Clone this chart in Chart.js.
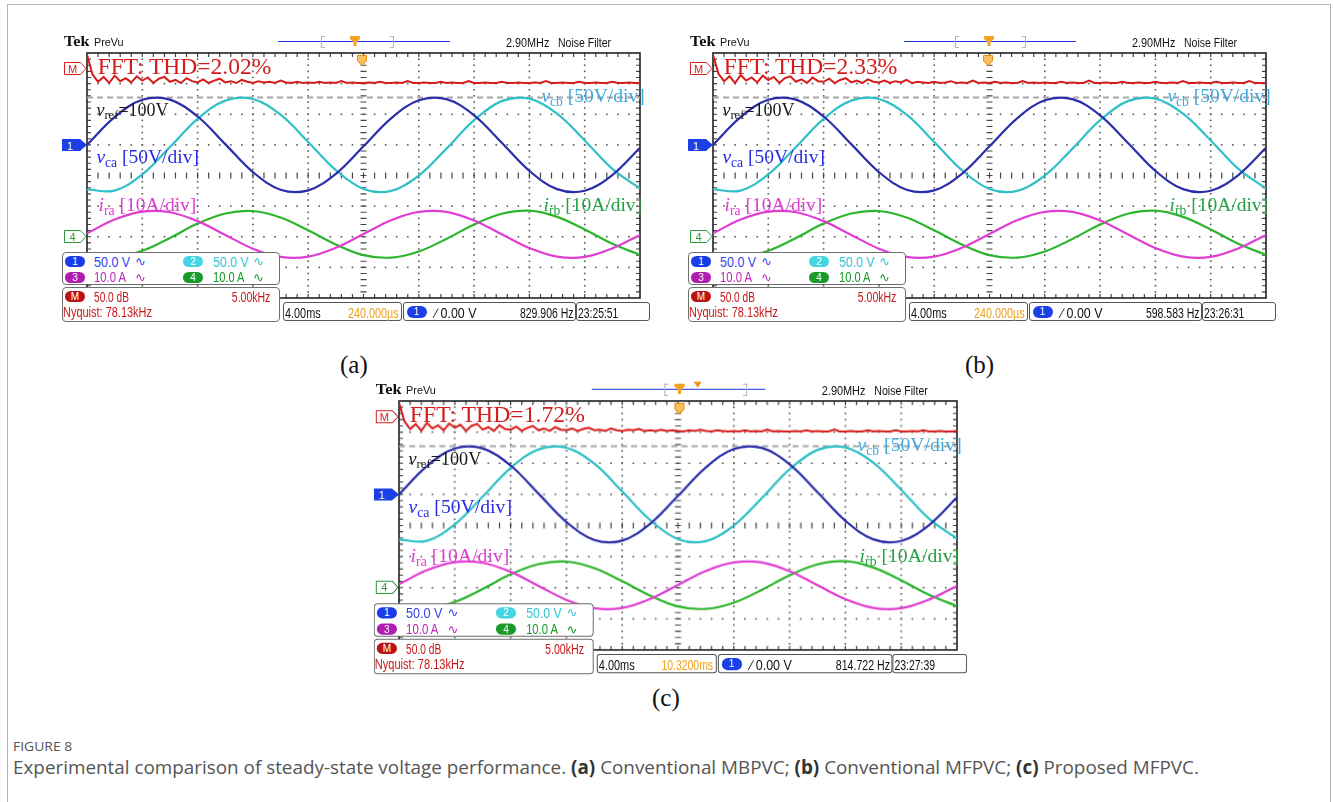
<!DOCTYPE html>
<html>
<head>
<meta charset="utf-8">
<title>Figure 8</title>
<script src="https://cdn.jsdelivr.net/npm/chart.js@4.4.1/dist/chart.umd.min.js"></script>
<style>
  html, body { margin: 0; padding: 0; background: #fff; }
  body { width: 1333px; height: 802px; position: relative; overflow: hidden; }
  .frame { position: absolute; left: 7px; top: 4px; width: 1322px; height: 900px; border: 1px solid #b4b4b4; }
  .scope { position: absolute; width: 553px; height: 245px; transform-origin: 0 0; }
  .scope canvas { position: absolute; left: -11px; top: -11px; }
  .t { position: absolute; white-space: nowrap; line-height: 1; }
  .serif { font-family: "Liberation Serif", "Times New Roman", serif; }
  .sans { font-family: "Liberation Sans", Arial, sans-serif; }
  .dv { font-family: "DejaVu Sans", sans-serif; }
  .os { font-family: "Open Sans", sans-serif; }
  .sub { position: relative; top: .3em; font-size: .7em; font-style: normal; }
  .box { position: absolute; box-sizing: border-box; border: 1px solid #6e6e6e; border-radius: 4px; background: #fff; }
  .pill { position: absolute; width: 20px; height: 11px; border-radius: 6px; color: #fff; text-align: center;
          font: 10px/11px "Liberation Sans", Arial, sans-serif; }
  .mk { position: absolute; overflow: visible; }
  .hbar { position: absolute; height: 1.5px; background: #2238e0; }
  .brk { position: absolute; width: 3px; height: 10px; border: 1px solid #b3b3b3; }
</style>
</head>
<body>
<div class="frame"></div>
<script>
// scope time axis (ms), 4 ms/div over 10 div
const timeMs = [0, 2, 4, 6, 8, 10, 12, 14, 16, 18, 20, 22, 24, 26, 28, 30, 32, 34, 36, 38, 40];

// capacitor voltages (V), 50 V/div
const vca = [0, 45.4, 73.6, 73.9, 46.3, 1.2, -44.4, -73.2, -74.3, -47.3, -2.4,
             43.4, 72.8, 74.6, 48.3, 3.6, -42.4, -72.3, -74.9, -49.2, -4.8];
const vcb = [-72.8, -74.6, -48.3, -3.6, 42.4, 72.3, 74.9, 49.2, 4.8, -41.3, -71.9,
             -75.2, -50.1, -6.1, 40.3, 71.4, 75.5, 51.0, 7.3, -39.3, -71.0];

// reactor currents (A), 10 A/div
const ira = [1.1, 5.6, 8.2, 8.0, 5.1, 0.6, -3.9, -6.6, -6.5, -3.6, 0.9,
             5.4, 8.1, 8.1, 5.3, 0.8, -3.7, -6.5, -6.6, -3.8, 0.6];
const irb = [-6.1, -6.8, -4.6, -0.4, 4.3, 7.6, 8.4, 6.3, 2.1, -2.5, -6.0,
             -6.8, -4.8, -0.7, 4.0, 7.5, 8.5, 6.5, 2.4, -2.3, -5.9];

// grey dashed reference level (V)
const refT = [0, 40];
const refV = [77.5, 77.5];

// FFT math trace (dB), 50 dB/div, one bin per 0.5 kHz, 5 kHz/div
const fftStepKHz = 0.5;
const fftA = [22, -10, -22, -14, -24, -12, -21, -16, -23, -13,
              -20, -15, -24, -17, -14, -22, -19, -24, -16, -21,
              -23, -18, -24, -20, -17, -23, -21, -24, -19, -22,
              -24, -21, -23, -22, -24, -20, -23, -24, -22, -24,
              -23, -24, -22, -24, -23, -24, -21, -24, -23, -24,
              -24, -23, -24, -22, -24, -24, -23, -24, -21, -24,
              -24, -23, -24, -24, -22, -24, -23, -24, -24, -21,
              -24, -24, -23, -24, -24, -22, -24, -24, -23, -24,
              -24, -23, -24, -21, -24, -24, -23, -24, -24, -22,
              -24, -24, -23, -24, -24, -22, -24, -24, -23, -24, -24];
const fftB = [22, -9, -21, -13, -24, -11, -20, -15, -23, -12,
              -19, -14, -24, -16, -13, -22, -18, -24, -15, -21,
              -22, -17, -24, -19, -16, -23, -20, -24, -18, -22,
              -23, -20, -24, -21, -23, -19, -24, -22, -23, -24,
              -22, -24, -23, -21, -24, -23, -24, -20, -24, -23,
              -24, -22, -24, -23, -24, -24, -21, -24, -23, -24,
              -23, -24, -24, -22, -24, -23, -24, -24, -20, -24,
              -24, -23, -24, -24, -22, -24, -24, -23, -24, -24,
              -22, -24, -24, -23, -24, -21, -24, -24, -23, -24,
              -24, -22, -24, -24, -23, -24, -24, -21, -24, -24, -24];
const fftC = [22, -8, -20, -12, -23, -10, -19, -14, -22, -11,
              -18, -13, -23, -15, -12, -21, -17, -23, -14, -20,
              -21, -16, -23, -18, -15, -22, -19, -23, -17, -21,
              -22, -19, -23, -20, -18, -22, -21, -23, -19, -22,
              -23, -21, -22, -20, -23, -22, -23, -21, -23, -22,
              -23, -24, -22, -23, -21, -23, -24, -22, -23, -24,
              -23, -24, -22, -24, -23, -24, -21, -24, -23, -24,
              -24, -23, -24, -22, -24, -23, -24, -24, -21, -24,
              -24, -23, -24, -24, -22, -24, -23, -24, -24, -22,
              -24, -24, -23, -24, -22, -24, -24, -23, -24, -24, -23];
const fftSets = [fftA, fftB, fftC];

// readouts of the three captures
const panelTags = ['(a)', '(b)', '(c)'];
const thdText = ['2.02', '2.33', '1.72'];
const delayText = ['240.000µs', '240.000µs', '10.3200ms'];
const freqText = ['829.906 Hz', '598.583 Hz', '814.722 Hz'];
const clockText = ['23:25:51', '23:26:31', '23:27:39'];

// where each screenshot sits on the page (grid top-left corner)
const layout = [
  { left: 87, top: 53, sx: 1, sy: 1, brk: [234, 303], hdr: 268, hdr2: null, trig: 274, tag: [340, 373] },
  { left: 713, top: 53, sx: 1, sy: 1, brk: [242, 309], hdr: 276, hdr2: null, trig: 274, tag: [965, 373] },
  { left: 399, top: 401, sx: 1.009, sy: 1.016, brk: [263, 341], hdr: 278, hdr2: 296, trig: 277, tag: [652, 706] }
];

const scopeGrid = {
  id: 'scopeGrid',
  beforeDatasetsDraw(chart) {
    const ctx = chart.ctx, a = chart.chartArea;
    const sx = chart.scales.x, sy = chart.scales.yV;
    const X = v => sx.getPixelForValue(v), Y = v => sy.getPixelForValue(v);
    ctx.save();
    ctx.fillStyle = '#5a5a5a';
    for (let i = 1; i < 10; i++) {
      if (i === 5) continue;
      for (let k = 1; k < 40; k++) ctx.fillRect(X(i * 4) - 0.8, Y(-250 + k * 10) - 0.8, 1.6, 1.6);
    }
    for (let j = 1; j < 8; j++) {
      if (j === 4) continue;
      for (let k = 1; k < 50; k++) ctx.fillRect(X(k * 0.8) - 0.8, Y(-250 + j * 50) - 0.8, 1.6, 1.6);
    }
    ctx.strokeStyle = '#454545';
    ctx.lineWidth = 1.2;
    ctx.beginPath();
    for (let k = 1; k < 40; k++) {
      const py = Y(-250 + k * 10);
      ctx.moveTo(X(20) - 3, py); ctx.lineTo(X(20) + 3, py);
      ctx.moveTo(a.left, py); ctx.lineTo(a.left + 4, py);
      ctx.moveTo(a.right, py); ctx.lineTo(a.right - 4, py);
    }
    for (let k = 1; k < 50; k++) {
      const px = X(k * 0.8);
      ctx.moveTo(px, Y(-50) - 3); ctx.lineTo(px, Y(-50) + 3);
      ctx.moveTo(px, a.top); ctx.lineTo(px, a.top + 4);
      ctx.moveTo(px, a.bottom); ctx.lineTo(px, a.bottom - 4);
    }
    ctx.stroke();
    ctx.strokeStyle = '#222';
    ctx.lineWidth = 1.6;
    ctx.strokeRect(a.left, a.top, a.right - a.left, a.bottom - a.top);
    ctx.restore();
  }
};

function scopeChart(canvas, fft) {
  const xy = (xs, ys) => ys.map((v, i) => ({ x: xs[i], y: v }));
  const fftPts = fft.map((v, i) => ({ x: i * fftStepKHz, y: v }));
  const trace = (data, color, w, xId, yId, extra) => Object.assign({
    data: data, borderColor: color, borderWidth: w, xAxisID: xId, yAxisID: yId,
    pointRadius: 0, tension: 0.36, fill: false
  }, extra || {});
  return new Chart(canvas, {
    type: 'line',
    data: {
      datasets: [
        trace(xy(timeMs, ira), '#e03ed2', 2.2, 'x', 'yA'),
        trace(xy(timeMs, irb), '#2db52d', 2.2, 'x', 'yA'),
        trace(xy(timeMs, vca), '#2a2ea8', 2.2, 'x', 'yV'),
        trace(xy(timeMs, vcb), '#2fc0c8', 2.2, 'x', 'yV'),
        trace(xy(refT, refV), '#a6a6a6', 2, 'x', 'yV', { borderDash: [6, 4], tension: 0 }),
        trace(fftPts, '#d81c1c', 2, 'xF', 'yF', { tension: 0 })
      ]
    },
    options: {
      responsive: false,
      animation: false,
      events: [],
      layout: { padding: 11 },
      plugins: { legend: { display: false }, tooltip: { enabled: false } },
      scales: {
        x: { type: 'linear', min: 0, max: 40, display: false },
        xF: { type: 'linear', min: 0, max: 50, display: false },
        yV: { type: 'linear', min: -250, max: 150, display: false },
        yA: { type: 'linear', min: -20, max: 60, display: false },
        yF: { type: 'linear', min: -375, max: 25, display: false }
      }
    },
    plugins: [scopeGrid]
  });
}

// text placed by its baseline
function txt(root, html, x, base, size, cls, color, w, right) {
  const d = document.createElement('div');
  d.className = 't ' + cls;
  d.innerHTML = html;
  d.style.fontSize = size + 'px';
  d.style.color = color;
  const k = cls.indexOf('serif') >= 0 ? 0.8375 : (cls.indexOf('os') >= 0 ? 0.888 : 0.8465);
  d.style.top = (base - size * k) + 'px';
  root.appendChild(d);
  if (right) { d.style.right = (553 - x) + 'px'; d.style.transformOrigin = '100% 0'; }
  else { d.style.left = x + 'px'; d.style.transformOrigin = '0 0'; }
  if (w) d.style.transform = 'scaleX(' + (w / d.offsetWidth).toFixed(3) + ')';
  return d;
}

function el(root, cls, x, y, w, h, css) {
  const d = document.createElement('div');
  d.className = cls;
  d.style.left = x + 'px'; d.style.top = y + 'px';
  if (w != null) d.style.width = w + 'px';
  if (h != null) d.style.height = h + 'px';
  if (css) d.style.cssText += css;
  root.appendChild(d);
  return d;
}

function svg(root, x, y, w, h, inner) {
  const s = document.createElementNS('http://www.w3.org/2000/svg', 'svg');
  s.setAttribute('width', w);
  s.setAttribute('height', h);
  s.setAttribute('class', 'mk');
  s.style.left = x + 'px'; s.style.top = y + 'px';
  s.innerHTML = inner;
  root.appendChild(s);
}

function pill(root, label, x, y, bg, h) {
  const p = el(root, 'pill', x, y, 20, h || 11, 'background:' + bg + ';line-height:' + (h || 11) + 'px');
  p.textContent = label;
}

function buildScope(n) {
  const L = layout[n];
  const root = el(document.body, 'scope', L.left, L.top);
  if (L.sx !== 1 || L.sy !== 1) root.style.transform = 'scale(' + L.sx + ',' + L.sy + ')';
  const cv = document.createElement('canvas');
  cv.width = 575; cv.height = 267;
  root.appendChild(cv);
  const chart = scopeChart(cv, fftSets[n]);
  const py = (id, v) => chart.scales[id].getPixelForValue(v) - 11;

  // header line
  txt(root, '<b>Tek</b>', -22.6, -6.6, 15, 'serif', '#111', 26);
  txt(root, 'PreVu', 7, -6.6, 11.5, 'sans', '#111', 30);
  el(root, 'hbar', 190.5, -12.3, 172);
  el(root, 'brk', L.brk[0], -17, null, null, 'border-right:none');
  el(root, 'brk', L.brk[1], -17, null, null, 'border-left:none');
  svg(root, L.hdr - 5, -17, 10, 11, '<polygon points="0,0 10,0 10,3 6.5,6 6.5,10 3.5,10 3.5,6 0,3" fill="#f2a224"/>');
  if (L.hdr2) svg(root, L.hdr2 - 4, -19, 8, 7, '<polygon points="0,0 8,0 4,6" fill="#f0901c"/>');
  txt(root, '2.90MHz', 419.4, -6, 12, 'sans', '#111', 43.3);
  txt(root, 'Noise Filter', 471, -6, 12, 'sans', '#111', 53.4);

  // channel reference markers on the left edge
  const yM = py('yF', 0), y1 = py('yV', 0), y4 = py('yA', 0);
  svg(root, -23, yM - 6.5, 23, 13,
    '<polygon points="0.5,0.5 16.5,0.5 22,6.5 16.5,12.5 0.5,12.5" fill="#fff" stroke="#d22020"/>' +
    '<text x="8.5" y="10.5" font-size="11" font-family="Liberation Sans" fill="#d22020" text-anchor="middle">M</text>');
  svg(root, -25, y1 - 6, 25, 12,
    '<polygon points="0,0 18,0 25,6 18,12 0,12" fill="#1d3fe6"/>' +
    '<text x="8" y="10.5" font-size="11" font-family="Liberation Sans" fill="#fff" text-anchor="middle">1</text>');
  svg(root, -23, y4 - 6.5, 23, 13,
    '<polygon points="0.5,0.5 16.5,0.5 22,6.5 16.5,12.5 0.5,12.5" fill="#fff" stroke="#2a9a3a"/>' +
    '<text x="8.5" y="10.5" font-size="11" font-family="Liberation Sans" fill="#2a9a3a" text-anchor="middle">4</text>');

  // annotations written on the capture
  txt(root, 'FFT: THD=' + thdText[n] + '%', 10.7, 21.2, 23.5, 'serif', '#d41c1c');
  txt(root, '<i>v</i><span class="sub">ref</span>=100V', 9.4, 62.7, 18, 'serif', '#1a1a1a');
  txt(root, '<i>v</i><span class="sub">ca</span> [50V/div]', 9.4, 110, 19.5, 'serif', '#2a2ae8');
  txt(root, '<i>v</i><span class="sub">cb</span> [50V/div]', 454.4, 49.4, 19.5, 'serif', '#3ea8de');
  txt(root, '<i>i</i><span class="sub">ra</span> [10A/div]', 11.5, 158.4, 19.5, 'serif', '#e03cd0');
  txt(root, '<i>i</i><span class="sub">rb</span> [10A/div]', 456.5, 158.4, 19.5, 'serif', '#24a244');
  svg(root, L.trig - 4.5, 1.5, 10, 11,
    '<polygon points="0.5,0.5 9.5,0.5 9.5,6 5,10.5 0.5,6" fill="#f8c060" stroke="#e8900c"/>');

  // channel settings boxes
  el(root, 'box', -25, 198.5, 218, 33.5);
  pill(root, '1', -22, 202.8, '#1a3ce6');
  txt(root, '50.0 V', 7, 213.4, 14, 'sans', '#3344ee', 35.7);
  txt(root, '∿', 48, 213.4, 13, 'dv', '#3344ee');
  pill(root, '2', 96, 202.8, '#44d6e2');
  txt(root, '50.0 V', 125.7, 213.4, 14, 'sans', '#2fc6d8', 35);
  txt(root, '∿', 166, 213.4, 13, 'dv', '#2fc6d8');
  pill(root, '3', -22, 219, '#b01cb0');
  txt(root, '10.0 A', 7, 229, 14, 'sans', '#c020c0', 32.3);
  txt(root, '∿', 48, 229, 13, 'dv', '#c020c0');
  pill(root, '4', 96, 219, '#1a9a2a');
  txt(root, '10.0 A', 125.7, 229, 14, 'sans', '#129a22', 31.7);
  txt(root, '∿', 166, 229, 13, 'dv', '#129a22');

  el(root, 'box', -25, 233.5, 218, 35);
  pill(root, 'M', -22, 238.4, '#b81414');
  txt(root, '50.0 dB', 7, 248.4, 14, 'sans', '#c81818', 34.7);
  txt(root, '5.00kHz', 183, 248.4, 14, 'sans', '#c81818', 38.3, true);
  txt(root, 'Nyquist: 78.13kHz', -24.5, 263.4, 14, 'sans', '#c81818', 89.3);

  // timebase / trigger readouts
  el(root, 'box', 195.5, 248.5, 119.5, 19, 'border-radius:3px;border-color:#555');
  el(root, 'box', 316, 248.5, 172.5, 19, 'border-radius:3px;border-color:#555');
  el(root, 'box', 489, 248.5, 73.5, 19, 'border-radius:3px;border-color:#555');
  txt(root, '4.00ms', 198, 264.7, 14, 'sans', '#111', 35.7);
  txt(root, delayText[n], 311.5, 264.7, 14, 'sans', '#f0a21e', 51, true);
  pill(root, '1', 319.5, 252.5, '#1a40e6', 12);
  txt(root, '∕ 0.00 V', 347.7, 264.7, 14, 'sans', '#111', 41.7);
  txt(root, freqText[n], 486.7, 264.7, 14, 'sans', '#111', 54, true);
  txt(root, clockText[n], 490.5, 264.7, 14, 'sans', '#111', 40.7);

  txt(document.body, panelTags[n], L.tag[0], L.tag[1], 25, 'serif', '#111');
}

for (let n = 0; n < 3; n++) buildScope(n);

txt(document.body, 'FIGURE 8', 13, 752, 12.5, 'os', '#555', 59);
const cap = txt(document.body,
  'Experimental comparison of steady-state voltage performance. <b style="color:#333">(a)</b> Conventional MBPVC; ' +
  '<b style="color:#333">(b)</b> Conventional MFPVC; <b style="color:#333">(c)</b> Proposed MFPVC.',
  13, 775, 16, 'os', '#555');
cap.style.fontSize = (16 * 1187 / cap.offsetWidth).toFixed(2) + 'px';
cap.style.top = (775 - parseFloat(cap.style.fontSize) * 0.888) + 'px';
</script>
</body>
</html>
